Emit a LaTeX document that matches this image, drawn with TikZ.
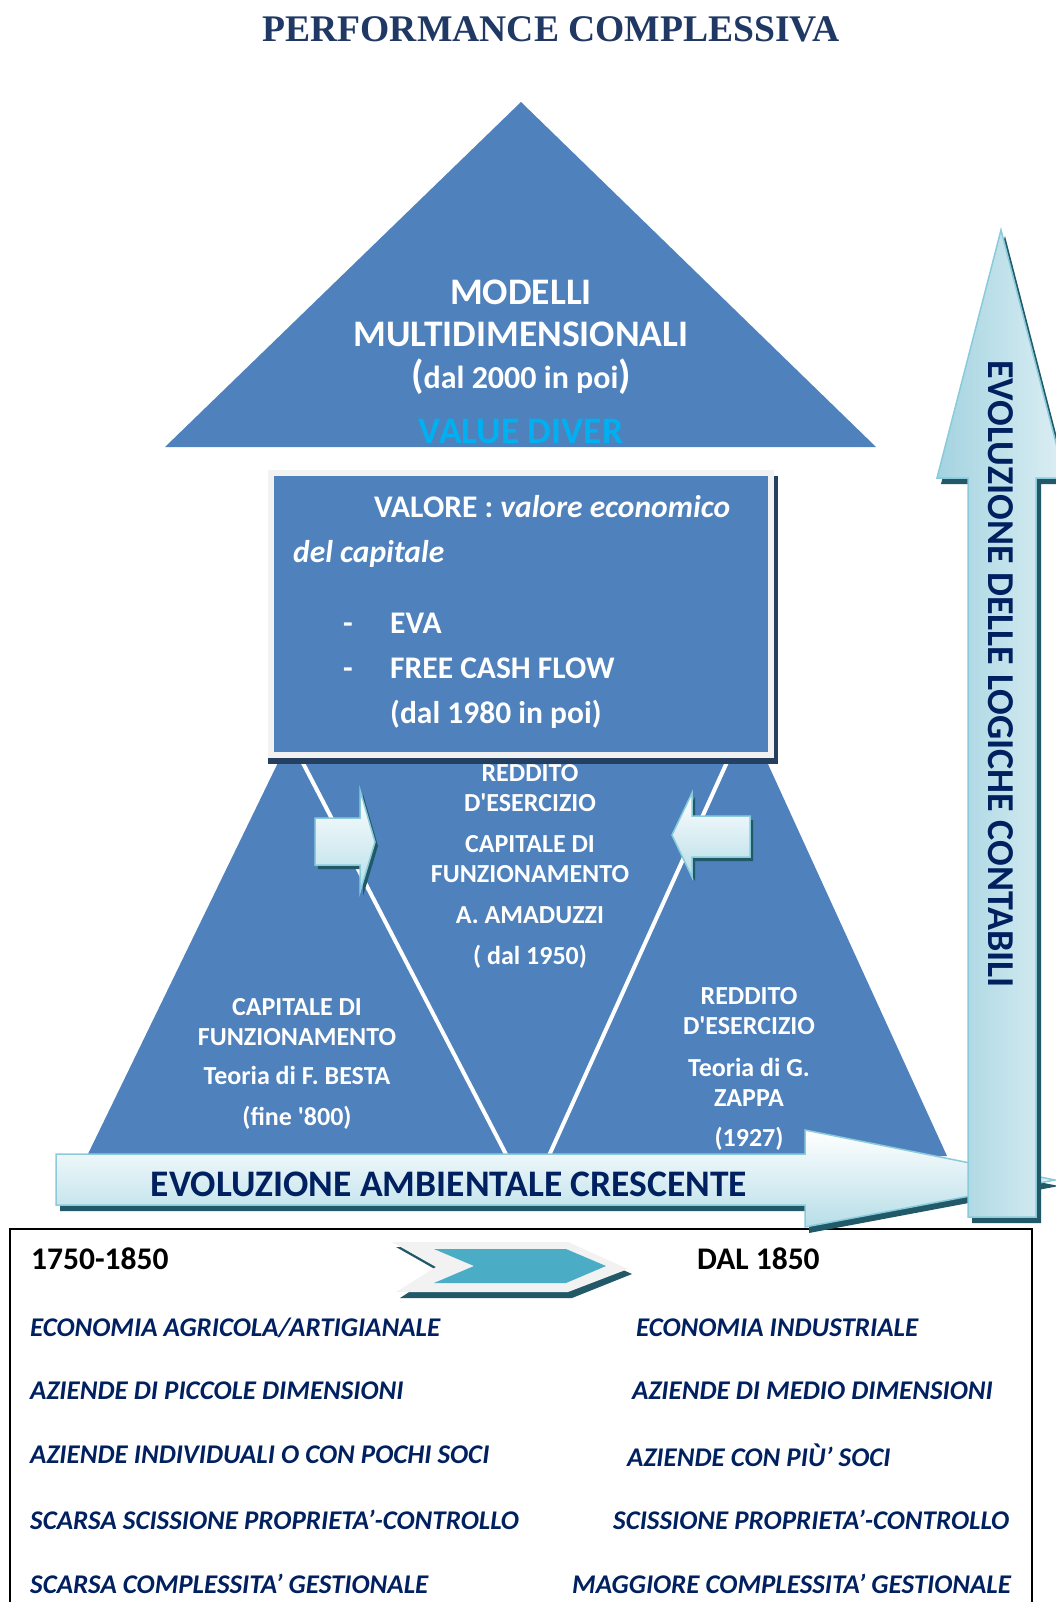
\documentclass[tikz,border=0pt]{standalone}
\usepackage{fontspec}
\setmainfont{Carlito}
\newfontfamily\plainfont{Carlito}[Ligatures=TeXOff]
\newfontfamily\titlefont{Liberation Serif}

\definecolor{pyrblue}{HTML}{4F81BD}
\definecolor{navy}{HTML}{002060}
\definecolor{titleblue}{HTML}{1F3864}
\definecolor{valuecyan}{HTML}{00B0F0}
\definecolor{arrowfill}{HTML}{B7DEE8}
\definecolor{arrowdeep}{HTML}{A3D3E0}
\definecolor{arrowpale}{HTML}{DDEFF4}
\definecolor{arrowline}{HTML}{8ACBDB}
\definecolor{arrowshadow}{HTML}{215968}
\definecolor{boxshadow}{HTML}{243F60}
\definecolor{chevronfill}{HTML}{4BACC6}
\definecolor{framegrey}{HTML}{F2F2F2}

\tikzset{
  pyrtext/.style={text=white, align=center, font=\plainfont\fontsize{26}{30}\selectfont\bfseries},
  boxtext/.style={text=white, anchor=base west, inner sep=0pt, font=\fontsize{31.5}{36}\selectfont\bfseries},
  rowtext/.style={text=navy, anchor=west, inner sep=0pt, font=\fontsize{27}{30}\selectfont\bfseries\itshape},
  yeartext/.style={text=black, anchor=west, inner sep=0pt, font=\fontsize{31.5}{36}\selectfont\bfseries},
  arrowtext/.style={text=navy, font=\fontsize{37.5}{42}\selectfont\bfseries},
  lightarrow/.style={draw=arrowline, line width=1.5pt, top color=white, bottom color=arrowfill},
}
\newcommand{\bigparen}[1]{{\fontsize{40}{42}\selectfont#1}}

\begin{document}
\begin{tikzpicture}[x=1pt,y=-1pt]
    \useasboundingbox (0,0) rectangle (1056,1602);
    \node[text=titleblue, font=\titlefont\fontsize{37.6}{40}\selectfont\bfseries] (title) at (551,29) {PERFORMANCE COMPLESSIVA};

    % top of the pyramid
    \fill[pyrblue] (521,102) -- (876,447) -- (165,447) -- cycle;
    \node[pyrtext, font=\fontsize{37.5}{42}\selectfont\bfseries] (modelli) at (521,337) {MODELLI\\MULTIDIMENSIONALI\\{\fontsize{32}{42}\selectfont\bigparen{(}dal 2000 in poi\bigparen{)}}};
    \node[text=valuecyan, font=\fontsize{37.5}{42}\selectfont\bfseries] (driver) at (521,431) {VALUE DIVER};

    % lower part, three triangles
    \fill[pyrblue] (289,740) -- (757,740) -- (947,1156) -- (87,1156) -- cycle;
    \draw[white, line width=4pt] (291,740) -- (509,1160);
    \draw[white, line width=4pt] (737,740) -- (547,1160);

    % box VALORE
    \fill[boxshadow] (268,476) rectangle (778,764);
    \fill[framegrey] (268,470) rectangle (774,758);
    \fill[pyrblue] (274,476) rectangle (768,752);
    \node[boxtext] (valore) at (374,517) {VALORE : \itshape valore economico};
    \node[boxtext, font=\fontsize{31.5}{36}\selectfont\bfseries\itshape] (capitale) at (293,562) {del capitale};
    \node[boxtext] (dash1) at (343,633) {-};
    \node[boxtext] (eva) at (390,633) {EVA};
    \node[boxtext] (dash2) at (343,678) {-};
    \node[boxtext] (fcf) at (390,678) {FREE CASH FLOW};
    \node[boxtext] (dal80) at (390,723) {(dal 1980 in poi)};

    % small arrows
    \fill[arrowshadow] (318,822) -- (363,822) -- (363,794) -- (378,846) -- (363,896) -- (363,869) -- (318,869) -- cycle;
    \path[lightarrow] (315,818) -- (360,818) -- (360,790) -- (375,842) -- (360,892) -- (360,865) -- (315,865) -- cycle;
    \fill[arrowshadow] (753,820) -- (695,820) -- (695,797) -- (675,839) -- (695,881) -- (695,861) -- (753,861) -- cycle;
    \path[lightarrow] (750,816) -- (692,816) -- (692,793) -- (672,835) -- (692,877) -- (692,857) -- (750,857) -- cycle;

    \node[pyrtext] (amaduzzi) at (530,866) {REDDITO\\D'ESERCIZIO\\[11pt]CAPITALE DI\\FUNZIONAMENTO\\[11pt]A. AMADUZZI\\[11pt]( dal 1950)};
    \node[pyrtext] (besta) at (297,1064) {CAPITALE DI\\FUNZIONAMENTO\\[9pt]Teoria di F. BESTA\\[11pt](fine '800)};
    \node[pyrtext] (zappa) at (749,1069) {REDDITO\\D'ESERCIZIO\\[12pt]Teoria di G.\\ZAPPA\\[10pt](1927)};

    % table at the bottom
    \draw[line width=2pt] (10,1229) rectangle (1032,1612);
    \fill[arrowshadow] (396,1247) -- (572,1247) -- (632,1274) -- (572,1298) -- (400,1298) -- (440,1272) -- cycle;
    \fill[framegrey] (392,1242) -- (568,1242) -- (628,1269) -- (568,1292) -- (396,1292) -- (436,1267) -- cycle;
    \fill[chevronfill] (434,1249) -- (566,1249) -- (606,1266) -- (566,1283) -- (434,1283) -- (474,1266) -- cycle;
    \node[yeartext] (from) at (31,1259) {1750-1850};
    \node[yeartext] (since) at (697,1259) {DAL 1850};
    \foreach \y/\lt/\rx/\rt [count=\i] in {
        1328/{ECONOMIA AGRICOLA/ARTIGIANALE}/636/{ECONOMIA INDUSTRIALE},
        1391/{AZIENDE DI PICCOLE DIMENSIONI}/632/{AZIENDE DI MEDIO DIMENSIONI},
        1455/{AZIENDE INDIVIDUALI O CON POCHI SOCI}/627/{AZIENDE CON PIÙ' SOCI},
        1520/{SCARSA SCISSIONE PROPRIETA'-CONTROLLO}/613/{SCISSIONE PROPRIETA'-CONTROLLO},
        1584/{SCARSA COMPLESSITA' GESTIONALE}/572/{MAGGIORE COMPLESSITA' GESTIONALE}}{
        \node[rowtext] (old\i) at (30,\y) {\lt};
        \node[rowtext] (new\i) at (\rx,\y) {\rt};
    }

    % horizontal arrow
    \fill[arrowshadow] (60,1160) -- (809,1160) -- (809,1136) -- (1059,1186) -- (809,1233) -- (809,1211) -- (60,1211) -- cycle;
    \path[lightarrow] (56,1154) -- (805,1154) -- (805,1130) -- (1055,1180) -- (805,1227) -- (805,1205) -- (56,1205) -- cycle;
    \node[arrowtext] (ambiente) at (449,1184) {EVOLUZIONE AMBIENTALE CRESCENTE};

    % vertical arrow
    \fill[arrowshadow] (972,1223) -- (972,484) -- (941,484) -- (1005,236) -- (1069,484) -- (1041,484) -- (1041,1223) -- cycle;
    \path[draw=arrowline, line width=1.5pt, left color=arrowdeep, right color=arrowpale] (968,1217) -- (968,478) -- (937,478) -- (1001,230) -- (1065,478) -- (1036,478) -- (1036,1217) -- cycle;
    \node[arrowtext, rotate=-90, font=\fontsize{38}{40}\selectfont\bfseries] (logiche) at (1001,674) {EVOLUZIONE DELLE LOGICHE CONTABILI};
\end{tikzpicture}
\end{document}
